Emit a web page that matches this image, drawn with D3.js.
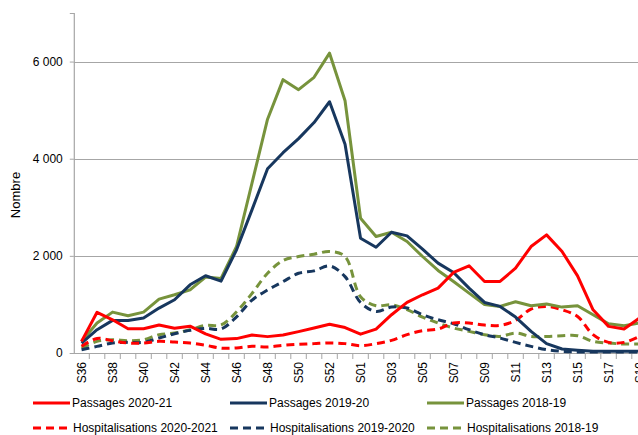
<!DOCTYPE html>
<html>
<head>
<meta charset="utf-8">
<script src="https://cdn.jsdelivr.net/npm/d3@7"></script>
<style>
    body { margin: 0; background: #fff; }
    svg { display: block; font-family: "Liberation Sans", Arial, sans-serif; }
</style>
</head>
<body>
<svg class="chart" width="638" height="435"></svg>
<script>
var weeks = ["S36", "S37", "S38", "S39", "S40", "S41", "S42", "S43", "S44", "S45", "S46", "S47", "S48", "S49", "S50", "S51", "S52", "S53",
    "S01", "S02", "S03", "S04", "S05", "S06", "S07", "S08", "S09", "S10", "S11", "S12", "S13", "S14", "S15", "S16", "S17", "S18", "S19"];

var yTicks = [0, 2000, 4000, 6000];

var passages2021 = [240, 838, 683, 498, 498, 576, 511, 552, 395, 282, 296, 371, 337, 371, 440, 515, 593, 524,
    388, 493, 788, 1041, 1199, 1336, 1658, 1795, 1473, 1473, 1747, 2192, 2432, 2089, 1589, 890, 548, 493, 719];
var passages1920 = [205, 480, 671, 671, 719, 925, 1096, 1404, 1590, 1480, 2124, 2952, 3793, 4124, 4414, 4745, 5173, 4297,
    2363, 2178, 2487, 2411, 2137, 1850, 1658, 1336, 1041, 959, 740, 445, 192, 82, 55, 34, 34, 34, 34];
var passages1819 = [240, 616, 842, 767, 842, 1110, 1199, 1301, 1565, 1535, 2193, 3504, 4814, 5628, 5421, 5676, 6173, 5193,
    2774, 2398, 2487, 2295, 1987, 1699, 1473, 1233, 1000, 959, 1055, 973, 1007, 945, 973, 788, 603, 562, 617];
var hosp2021 = [137, 300, 253, 205, 205, 240, 226, 205, 159, 100, 103, 138, 124, 159, 179, 193, 207, 193,
    151, 192, 260, 377, 459, 493, 617, 617, 575, 569, 671, 904, 959, 890, 753, 377, 219, 219, 342];
var hosp1920 = [68, 137, 205, 219, 219, 308, 397, 466, 508, 495, 745, 1090, 1297, 1469, 1641, 1690, 1793, 1572,
    1040, 856, 945, 925, 788, 685, 603, 480, 377, 308, 219, 137, 68, 34, 20, 20, 20, 20, 20];
var hosp1819 = [103, 240, 274, 253, 274, 377, 411, 480, 570, 577, 848, 1228, 1641, 1903, 1986, 2034, 2090, 1986,
    1160, 973, 993, 891, 740, 617, 514, 445, 377, 342, 411, 342, 342, 356, 356, 240, 205, 185, 185];

var seriesNames = ["Passages 2020-21", "Passages 2019-20", "Passages 2018-19",
    "Hospitalisations 2020-2021", "Hospitalisations 2019-2020", "Hospitalisations 2018-19"];

(function() {
    'use strict';

    var red = "#ff0000", navy = "#17375e", olive = "#77933c";

    var series = [
        { name: seriesNames[0], values: passages2021, color: red, dash: null },
        { name: seriesNames[1], values: passages1920, color: navy, dash: null },
        { name: seriesNames[2], values: passages1819, color: olive, dash: null },
        { name: seriesNames[3], values: hosp2021, color: red, dash: "8,5" },
        { name: seriesNames[4], values: hosp1920, color: navy, dash: "8,5" },
        { name: seriesNames[5], values: hosp1819, color: olive, dash: "8,5" }
    ];

    var left = 73.8, top = 13, bottom = 353,
        step = 15.5;

    var x = d3.scaleBand()
        .domain(weeks)
        .range([left, left + step * weeks.length]);

    var y = d3.scaleLinear()
        .domain([0, 7000])
        .range([bottom, top]);

    var chart = d3.select(".chart");

    // grid
    chart.append("g")
        .selectAll("line")
        .data(yTicks.filter(function(d) { return d > 0; }))
        .enter().append("line")
        .attr("x1", left)
        .attr("x2", 638)
        .attr("y1", function(d) { return Math.round(y(d)) + 0.5; })
        .attr("y2", function(d) { return Math.round(y(d)) + 0.5; })
        .attr("stroke", "#a6a6a6")
        .attr("stroke-width", 1.2);

    // y axis
    var yAxis = chart.append("g")
        .attr("transform", "translate(" + left + ",0)")
        .call(d3.axisLeft(y)
            .tickValues(yTicks)
            .tickSize(4)
            .tickPadding(7)
            .tickFormat(function(d) { return d3.format(",")(d).replace(/,/g, " "); }));
    yAxis.select(".domain").attr("stroke", "#a6a6a6").attr("stroke-width", 1.2);
    yAxis.selectAll(".tick line").attr("stroke", "#a6a6a6");
    yAxis.selectAll("text")
        .attr("fill", "#000")
        .style("font-size", "12px")
        .style("font-family", "Liberation Sans, Arial, sans-serif");

    // x axis, ticks between categories
    chart.append("line")
        .attr("x1", left)
        .attr("x2", 638)
        .attr("y1", bottom + 0.5)
        .attr("y2", bottom + 0.5)
        .attr("stroke", "#a6a6a6")
        .attr("stroke-width", 1.2);

    chart.append("g")
        .selectAll("line")
        .data(weeks)
        .enter().append("line")
        .attr("x1", function(d) { return x(d) + x.bandwidth(); })
        .attr("x2", function(d) { return x(d) + x.bandwidth(); })
        .attr("y1", bottom)
        .attr("y2", bottom + 6)
        .attr("stroke", "#a6a6a6");

    chart.append("g")
        .selectAll("text")
        .data(weeks.filter(function(d, i) { return i % 2 === 0; }))
        .enter().append("text")
        .attr("transform", function(d) {
            return "translate(" + (x(d) + x.bandwidth() / 2) + "," + (bottom + 9) + ") rotate(-90)";
        })
        .attr("text-anchor", "end")
        .attr("dy", ".35em")
        .style("font-size", "12px")
        .text(function(d) { return d; });

    // y title
    chart.append("text")
        .attr("transform", "translate(15,195) rotate(-90)")
        .attr("text-anchor", "middle")
        .attr("dy", ".35em")
        .style("font-size", "13px")
        .text("Nombre");

    // lines
    var solid = d3.line()
        .x(function(d, i) { return x(weeks[i]) + x.bandwidth() / 2; })
        .y(function(d) { return y(d); });

    var smooth = d3.line()
        .x(function(d, i) { return x(weeks[i]) + x.bandwidth() / 2; })
        .y(function(d) { return y(d); })
        .curve(d3.curveCatmullRom.alpha(0.5));

    // draw hospitalisations first, then passages on top
    var order = [5, 4, 3, 2, 1, 0];
    chart.append("g")
        .selectAll("path")
        .data(order.map(function(i) { return series[i]; }))
        .enter().append("path")
        .attr("d", function(d) { return d.dash ? smooth(d.values) : solid(d.values); })
        .attr("fill", "none")
        .attr("stroke", function(d) { return d.color; })
        .attr("stroke-width", 3)
        .attr("stroke-dasharray", function(d) { return d.dash; })
        .attr("stroke-linejoin", "round");

    // legend
    var legendX = [33, 230, 427],
        legendY = [403, 428];

    var legend = chart.append("g")
        .selectAll("g")
        .data(series)
        .enter().append("g")
        .attr("transform", function(d, i) {
            return "translate(" + legendX[i % 3] + "," + legendY[Math.floor(i / 3)] + ")";
        });

    legend.append("line")
        .attr("x1", 0)
        .attr("x2", function(d) { return d.dash ? 34 : 37; })
        .attr("stroke", function(d) { return d.color; })
        .attr("stroke-width", 3)
        .attr("stroke-dasharray", function(d) { return d.dash ? "8,5" : null; });

    legend.append("text")
        .attr("x", function(d) { return d.dash ? 40 : 39; })
        .attr("dy", ".35em")
        .style("font-size", "12px")
        .text(function(d) { return d.name; });
})();
</script>
</body>
</html>
